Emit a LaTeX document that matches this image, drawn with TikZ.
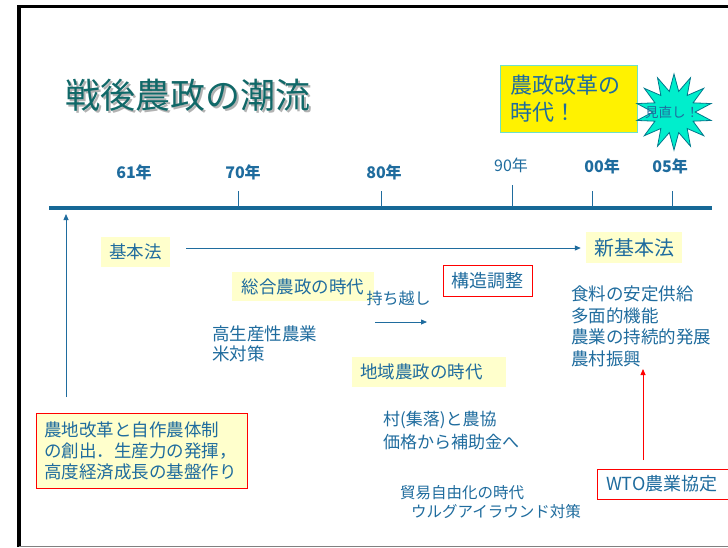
\documentclass[tikz,border=0pt]{standalone}
\usepackage{fontspec}
\setmainfont{Noto Sans CJK JP}
\usetikzlibrary{shapes.geometric,arrows.meta}
\definecolor{txt}{RGB}{31,108,158}
\definecolor{ttl}{RGB}{16,104,104}
\definecolor{lyel}{RGB}{255,255,204}
\definecolor{lineblue}{RGB}{22,104,150}
\definecolor{turq}{RGB}{0,238,204}
\definecolor{turqedge}{RGB}{0,120,140}
\definecolor{yedge}{RGB}{110,225,200}
\newcommand{\titletext}{戦後農政の潮流}
\begin{document}
\begin{tikzpicture}[x=1pt,y=-1pt,
  t/.style={text=txt,inner sep=0pt},
  yr/.style={text=txt,inner sep=0pt,font=\fontsize{16}{16}\selectfont\bfseries},
  ybox/.style={fill=lyel,text=txt,inner sep=0pt,font=\fontsize{17.5}{21}\selectfont},
  rbox/.style={draw=red,line width=0.9pt,text=txt,inner sep=0pt},
  tickline/.style={draw=txt,line width=0.9pt},
  arr/.style={draw=txt,line width=1pt,-{Triangle[length=6pt,width=5pt]}},
]
\useasboundingbox (0,0) rectangle (728,547);
\fill[white] (0,0) rectangle (728,547);
% frame
\draw[line width=3.5pt] (19,547) -- (19,6.5) -- (728,6.5);
\draw[gray,line width=1.5pt] (19,546.5) -- (728,546.5);
% title with shadow (one text)
\node[inner sep=0pt,font=\fontsize{35}{35}\selectfont] (title) at (188,96)
  {\rlap{\hspace*{2pt}\raisebox{-2pt}{\textcolor{black!30}{\titletext}}}\textcolor{ttl}{\titletext}};
% reform box
\node[fill=yellow,draw=yedge,line width=1pt,text=txt,inner xsep=10pt,inner ysep=0pt,text width=117pt,minimum height=67pt,align=left,font=\fontsize{22}{27}\selectfont] (reform) at (568.5,98.5) {農政改革の\\時代！};
% starburst
\node[star,star points=14,star point ratio=1.8,minimum size=76pt,fill=turq,draw=turqedge,line width=0.8pt,inner sep=0pt,yscale=1.0] (burst) at (674,112) {};
\node[t,font=\fontsize{13.5}{13.5}\selectfont] (burstlbl) at (672,112) {見直し！};
% years
\node[yr] (y61) at (134,172) {61年};
\node[yr] (y70) at (243,172) {70年};
\node[yr] (y80) at (384,172) {80年};
\node[t,font=\fontsize{16}{16}\selectfont] (y90) at (511,165) {90年};
\node[yr] (y00) at (602,166) {00年};
\node[yr] (y05) at (670,166) {05年};
% timeline
\coordinate (tl0) at (49,208);
\coordinate (tl1) at (712,208);
\draw[lineblue,line width=3.5pt] (tl0) -- (tl1);
\draw[tickline] (238,191) -- (238,207);
\draw[tickline] (381,191) -- (381,207);
\draw[tickline] (512,185) -- (512,207);
\draw[tickline] (592,191) -- (592,207);
\draw[tickline] (672,191) -- (672,207);
% boxes
\node[ybox,minimum width=69pt,minimum height=30pt] (kihon) at (135.5,252) {基本法};
\node[ybox,minimum width=96pt,minimum height=31pt,font=\fontsize{20}{20}\selectfont] (shinkihon) at (634,247.5) {新基本法};
\node[ybox,minimum width=142pt,minimum height=29pt] (sogo) at (303,286.5) {総合農政の時代};
\node[t,font=\fontsize{16}{16}\selectfont] (mochi) at (398.5,298) {持ち越し};
\node[rbox,fill=white,minimum width=89pt,minimum height=31pt,font=\fontsize{18}{18}\selectfont] (kozo) at (487.5,280.5) {構造調整};
\node[t,align=left,anchor=west,font=\fontsize{17.5}{20}\selectfont] (kosei) at (212,344) {高生産性農業\\米対策};
\node[t,align=left,anchor=west,font=\fontsize{17.5}{21.5}\selectfont] (shokuryo) at (571,326.5) {食料の安定供給\\多面的機能\\農業の持続的発展\\農村振興};
\node[ybox,minimum height=30pt,inner xsep=8pt,text width=138pt,align=left] (chiiki) at (429,372) {地域農政の時代};
\node[t,align=left,anchor=west,font=\fontsize{17}{23}\selectfont] (mura) at (383,430.5) {村(集落)と農協\\価格から補助金へ};
\node[t,align=left,anchor=west,font=\fontsize{15.5}{18.5}\selectfont] (boeki) at (400,502) {貿易自由化の時代\\\hspace*{11pt}ウルグアイラウンド対策};
\node[rbox,fill=lyel,inner xsep=8pt,text width=195pt,minimum height=75pt,align=left,font=\fontsize{17.5}{21}\selectfont] (nochi) at (141.5,450.5) {農地改革と自作農体制\\の創出．生産力の発揮，\\高度経済成長の基盤作り};
\node[rbox,fill=white,minimum height=30pt,inner xsep=9pt,text width=115pt,align=left,font=\fontsize{18}{18}\selectfont] (wto) at (663.5,484) {WTO農業協定};
% arrows
\coordinate (a1) at (186,248);
\draw[arr] (a1) -- (a1 -| shinkihon.west) [shorten >=5pt];
\coordinate (u0) at (66,397);
\coordinate (u1) at (66,214);
\draw[arr,line width=0.8pt] (u0) -- (u1);
\coordinate (s0) at (375,322);
\coordinate (s1) at (427,322);
\draw[arr,line width=0.8pt] (s0) -- (s1);
\coordinate (r0) at (643,460);
\coordinate (r1) at (643,369);
\draw[red,line width=0.8pt,-{Triangle[length=6pt,width=5pt]}] (r0) -- (r1);
\end{tikzpicture}
\end{document}
